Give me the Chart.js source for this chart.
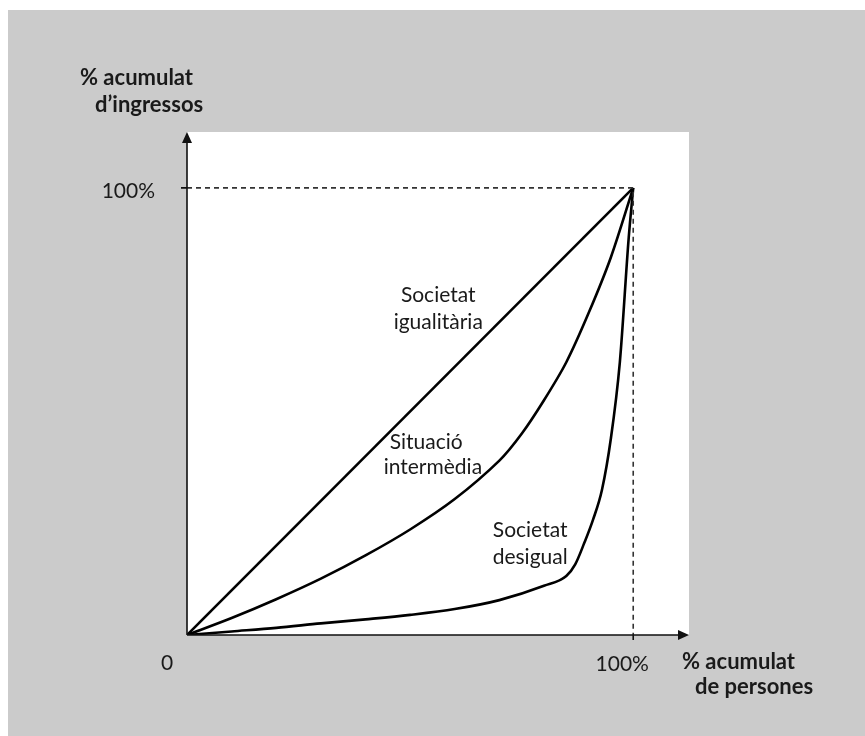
<!DOCTYPE html>
<html>
<head>
<meta charset="utf-8">
<script src="https://cdn.jsdelivr.net/npm/chart.js@4.4.1/dist/chart.umd.min.js"></script>
<style>
  html, body { margin: 0; padding: 0; background: #ffffff; }
  #wrap { position: absolute; left: 8px; top: 10px; width: 857px; height: 726px; background: #cbcbcb; }
</style>
</head>
<body>
<div id="wrap"><canvas id="mycanvas" width="857" height="726"></canvas></div>
<script>
// series names
var seriesNames = ['Societat igualitària', 'Situació intermèdia', 'Societat desigual'];

// % acumulat de persones (x) / % acumulat d'ingressos (y)
var igualX = [0, 100];
var igualY = [0, 100];

var intermX = [0, 10, 20, 30, 40, 50, 60, 70, 75, 80, 85, 90, 95, 100];
var intermY = [0, 3.8, 8, 12.6, 17.8, 23.6, 30.4, 39, 45, 52.5, 61, 72, 84.5, 100];

var desigX = [0, 10, 20, 30, 40, 50, 60, 70, 80, 85, 87, 89, 91, 93, 95, 97, 99, 100];
var desigY = [0, 0.8, 1.6, 2.6, 3.5, 4.5, 5.8, 7.8, 11, 13.2, 15.8, 20.5, 25.8, 32.5, 44, 61, 89, 100];

// reference (dashed) lines to the 100% / 100% point
var refX = [0, 100, 100];
var refY = [100, 100, 0];

var tickLabels = ['0', '100%'];
var axisTitleY = ['% acumulat', 'd\u2019ingressos'];
var axisTitleX = ['% acumulat', 'de persones'];

function toPoints(xs, ys) {
	var pts = [];
	for (var i in xs) {
		pts.push({ x: xs[i], y: ys[i] });
	}
	return pts;
}

var FONT = 'Lato, "Open Sans", sans-serif';
var TEXT = '#1a1a1a';

var drawExtras = {
	id: 'drawExtras',
	beforeDraw: function(chart) {
		var c = chart.ctx, a = chart.chartArea;
		c.save();
		c.fillStyle = '#ffffff';
		c.fillRect(a.left, a.top, a.right - a.left, a.bottom - a.top);
		c.restore();
	},
	afterDraw: function(chart) {
		var c = chart.ctx, a = chart.chartArea;
		var xs = chart.scales.x, ys = chart.scales.y;
		var x0 = xs.getPixelForValue(0), y0 = ys.getPixelForValue(0);
		var x100 = xs.getPixelForValue(100), y100 = ys.getPixelForValue(100);
		c.save();
		// axes
		c.strokeStyle = '#111';
		c.fillStyle = '#111';
		c.lineWidth = 1.6;
		c.beginPath();
		c.moveTo(x0, y0);
		c.lineTo(x0, a.top + 8);
		c.moveTo(x0, y0);
		c.lineTo(a.right - 8, y0);
		// small ticks at 100%
		c.moveTo(x0 - 6, y100);
		c.lineTo(x0, y100);
		c.moveTo(x100, y0);
		c.lineTo(x100, y0 + 5);
		c.stroke();
		// arrow heads
		c.beginPath();
		c.moveTo(x0, a.top);
		c.lineTo(x0 - 5, a.top + 11);
		c.lineTo(x0 + 5, a.top + 11);
		c.closePath();
		c.fill();
		c.beginPath();
		c.moveTo(a.right, y0);
		c.lineTo(a.right - 11, y0 - 5);
		c.lineTo(a.right - 11, y0 + 5);
		c.closePath();
		c.fill();

		// tick labels
		c.fillStyle = TEXT;
		c.font = '21px ' + FONT;
		c.textBaseline = 'middle';
		c.textAlign = 'center';
		c.fillText(tickLabels[0], x0 - 20, y0 + 28);
		c.fillText(tickLabels[1], x100 - 11, y0 + 29);
		c.textAlign = 'right';
		c.fillText(tickLabels[1], x0 - 32, y100 + 3);

		// axis titles
		c.font = 'bold 22px ' + FONT;
		c.textAlign = 'left';
		c.fillText(axisTitleY[0], x0 - 107, a.top - 54);
		c.fillText(axisTitleY[1], x0 - 92, a.top - 27);
		c.fillText(axisTitleX[0], a.right - 7, y0 + 27);
		c.fillText(axisTitleX[1], a.right + 6, y0 + 52);

		// curve labels
		c.font = '21px ' + FONT;
		c.textAlign = 'center';
		var words = [
			[seriesNames[0].split(' '), 56.3, 76.1, 70.0],
			[seriesNames[1].split(' '), 53.6, 43.2, 37.6],
			[seriesNames[2].split(' '), 76.9, 23.5, 17.4]
		];
		for (var i in words) {
			var w = words[i];
			c.fillText(w[0][0], xs.getPixelForValue(w[1]), ys.getPixelForValue(w[2]));
			c.fillText(w[0][1], xs.getPixelForValue(w[1] + (i == 1 ? 1.5 : 0)), ys.getPixelForValue(w[3]));
		}
		c.restore();
	}
};

var chartdata = {
	datasets: [
		{
			label: 'ref',
			data: toPoints(refX, refY),
			borderColor: '#333',
			borderWidth: 1.6,
			borderDash: [5, 4],
			pointRadius: 0,
			tension: 0
		},
		{
			label: seriesNames[0],
			data: toPoints(igualX, igualY),
			borderColor: '#000',
			borderWidth: 2.6,
			pointRadius: 0,
			tension: 0
		},
		{
			label: seriesNames[1],
			data: toPoints(intermX, intermY),
			borderColor: '#000',
			borderWidth: 2.6,
			pointRadius: 0,
			tension: 0.3
		},
		{
			label: seriesNames[2],
			data: toPoints(desigX, desigY),
			borderColor: '#000',
			borderWidth: 2.6,
			pointRadius: 0,
			cubicInterpolationMode: 'monotone'
		}
	]
};

var ctx = document.getElementById('mycanvas');
var lorenz = new Chart(ctx, {
	type: 'line',
	data: chartdata,
	options: {
		responsive: false,
		animation: false,
		layout: { padding: { left: 179, right: 176, top: 122, bottom: 101 } },
		plugins: { legend: { display: false }, tooltip: { enabled: false } },
		scales: {
			x: { type: 'linear', min: 0, max: 112.5, display: false },
			y: { type: 'linear', min: 0, max: 112.5, display: false }
		}
	},
	plugins: [drawExtras]
});
</script>
</body>
</html>
